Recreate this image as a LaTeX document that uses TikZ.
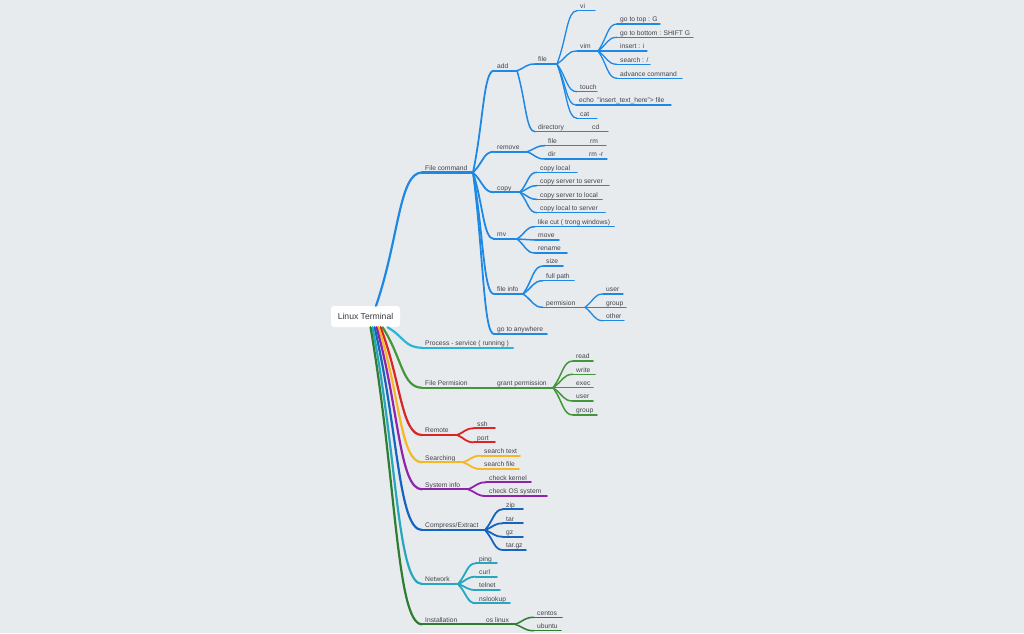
\documentclass[tikz,border=0pt]{standalone}
\usepackage{fontspec}
\setmainfont{Liberation Sans}
\usetikzlibrary{calc}
\definecolor{bg}{RGB}{232,235,238}
\definecolor{txt}{RGB}{66,66,76}
\definecolor{cB}{RGB}{30,136,229}
\definecolor{cCy}{RGB}{41,182,214}
\definecolor{cGa}{RGB}{67,150,58}
\definecolor{cR}{RGB}{218,37,37}
\definecolor{cO}{RGB}{247,183,36}
\definecolor{cP}{RGB}{142,36,170}
\definecolor{cBb}{RGB}{21,101,192}
\definecolor{cT}{RGB}{38,166,191}
\definecolor{cGb}{RGB}{46,125,50}
\tikzset{
  lbl/.style={font=\fontsize{6.7}{8}\selectfont, text=txt, inner xsep=3pt, inner ysep=2pt, text depth=0pt, anchor=south west},
  rootbox/.style={fill=white, rounded corners=3pt, minimum width=69pt, minimum height=21pt, inner sep=0pt, font=\fontsize{8.6}{10}\selectfont, text=txt!85!black},
  wa/.style={line width=2.2pt, line cap=round},
  wb/.style={line width=1.8pt, line cap=round},
  wc/.style={line width=1.5pt, line cap=round},
  wd/.style={line width=1.3pt, line cap=round}
}
% id, x0, x1, y, style, text
\newcommand\mm[6]{%
  \node[lbl] (#1) at (#2,#4) {#6};
  \coordinate (#1e) at (#3,#4);
  \draw[#5] (#1.south west) -- (#1e);}
% from coordinate, to node, style
\newcommand\cn[3]{%
  \coordinate (cm) at ($(#1)!0.5!(#2.south west)$);
  \draw[#3] (#1) .. controls (cm) and (cm |- #2.south west) .. (#2.south west);}
\begin{document}
\begin{tikzpicture}[x=1pt,y=-1pt]
\fill[bg] (0,0) rectangle (1024,633);
\useasboundingbox (0,0) rectangle (1024,633);

\node[rootbox] (root) at (365.5,316.5) {Linux Terminal};
\coordinate (r1) at ([xshift=10.5pt]root.north);
\coordinate (r2) at ([xshift=22pt]root.south);
\coordinate (r3) at ([xshift=17pt]root.south);
\coordinate (r4) at ([xshift=15pt]root.south);
\coordinate (r5) at ([xshift=13pt]root.south);
\coordinate (r6) at ([xshift=11pt]root.south);
\coordinate (r7) at ([xshift=9pt]root.south);
\coordinate (r8) at ([xshift=7pt]root.south);
\coordinate (r9) at ([xshift=5pt]root.south);

% ---------- File command ----------
\mm{fc}{422}{473}{172.5}{cB,wa}{File command}
\mm{add}{494}{517}{70.7}{cB,wb}{add}
\mm{rem}{494}{527}{151.7}{cB,wb}{remove}
\mm{cp}{494}{520}{192.3}{cB,wb}{copy}
\mm{mv}{494}{517}{239}{cB,wb}{mv}
\mm{fi}{494}{523}{294}{cB,wb}{file info}
\mm{gta}{494}{547}{334}{cB,wb}{go to anywhere}

\mm{afile}{535}{557}{64}{cB,wc}{file}
\mm{dir}{535}{567}{131.7}{cB,wc}{directory}
\mm{cd}{589}{608}{131.7}{cB,wd}{cd}

\mm{vi}{577}{595}{10.7}{cB,wd}{vi}
\mm{vim}{577}{598}{51}{cB,wd}{vim}
\mm{touch}{577}{597}{91.7}{cB,wd}{touch}
\mm{echo}{576}{671}{105}{cB,wd}{echo ~"insert\_text\_here"> file}
\mm{cat}{577}{597}{118.3}{cB,wd}{cat}

\mm{gtt}{617}{660}{24}{cB,wd}{go to top : G}
\mm{gtb}{617}{693}{37.3}{cB,wd}{go to bottom : SHIFT G}
\mm{ins}{617}{647}{51}{cB,wd}{insert : i}
\mm{srch}{617}{650}{64.3}{cB,wd}{search : /}
\mm{adv}{617}{682}{78.3}{cB,wd}{advance command}

\mm{rfile}{545}{567}{145.7}{cB,wc}{file}
\mm{rm}{587}{606}{145.7}{cB,wd}{rm}
\mm{rdir}{545}{567}{159}{cB,wc}{dir}
\mm{rmr}{586}{607}{159}{cB,wd}{rm -r}

\mm{cl}{537}{577}{172.3}{cB,wc}{copy local}
\mm{css}{537}{609}{185.7}{cB,wc}{copy server to server}
\mm{csl}{537}{602}{199.3}{cB,wc}{copy server to local}
\mm{cls}{537}{605}{212.7}{cB,wc}{copy local to server}

\mm{lcut}{535}{614}{226.7}{cB,wc}{like cut ( trong windows)}
\mm{move}{535}{559}{240}{cB,wc}{move}
\mm{ren}{535}{567}{253}{cB,wc}{rename}

\mm{size}{543}{563}{266}{cB,wc}{size}
\mm{fp}{543}{574}{280.7}{cB,wc}{full path}
\mm{perm}{543}{585}{307.3}{cB,wc}{permision}
\mm{pu}{603}{623}{294}{cB,wd}{user}
\mm{pg}{603}{626}{307.3}{cB,wd}{group}
\mm{po}{603}{624}{320.7}{cB,wd}{other}

\cn{r1}{fc}{cB,wa}
\cn{fce}{add}{cB,wb}
\cn{fce}{rem}{cB,wb}
\cn{fce}{cp}{cB,wb}
\cn{fce}{mv}{cB,wb}
\cn{fce}{fi}{cB,wb}
\cn{fce}{gta}{cB,wb}
\cn{adde}{afile}{cB,wc}
\cn{adde}{dir}{cB,wc}
\cn{dire}{cd}{cB,wd}
\cn{afilee}{vi}{cB,wd}
\cn{afilee}{vim}{cB,wd}
\cn{afilee}{touch}{cB,wd}
\cn{afilee}{echo}{cB,wd}
\cn{afilee}{cat}{cB,wd}
\cn{vime}{gtt}{cB,wd}
\cn{vime}{gtb}{cB,wd}
\cn{vime}{ins}{cB,wd}
\cn{vime}{srch}{cB,wd}
\cn{vime}{adv}{cB,wd}
\cn{reme}{rfile}{cB,wc}
\cn{reme}{rdir}{cB,wc}
\cn{rfilee}{rm}{cB,wd}
\cn{rdire}{rmr}{cB,wd}
\cn{cpe}{cl}{cB,wc}
\cn{cpe}{css}{cB,wc}
\cn{cpe}{csl}{cB,wc}
\cn{cpe}{cls}{cB,wc}
\cn{mve}{lcut}{cB,wc}
\cn{mve}{move}{cB,wc}
\cn{mve}{ren}{cB,wc}
\cn{fie}{size}{cB,wc}
\cn{fie}{fp}{cB,wc}
\cn{fie}{perm}{cB,wc}
\cn{perme}{pu}{cB,wd}
\cn{perme}{pg}{cB,wd}
\cn{perme}{po}{cB,wd}

% ---------- Process ----------
\mm{proc}{422}{513}{347.7}{cCy,wa}{Process - service ( running )}
\cn{r2}{proc}{cCy,wa}

% ---------- File Permision ----------
\mm{fperm}{422}{470}{387.7}{cGa,wa}{File Permision}
\mm{gp}{494}{553}{387.7}{cGa,wb}{grant permission}
\mm{read}{573}{593}{361}{cGa,wc}{read}
\mm{write}{573}{595}{374.3}{cGa,wc}{write}
\mm{exec}{573}{593}{387.7}{cGa,wc}{exec}
\mm{user}{573}{593}{401}{cGa,wc}{user}
\mm{group}{573}{597}{415}{cGa,wc}{group}
\cn{r3}{fperm}{cGa,wa}
\cn{fperme}{gp}{cGa,wb}
\cn{gpe}{read}{cGa,wc}
\cn{gpe}{write}{cGa,wc}
\cn{gpe}{exec}{cGa,wc}
\cn{gpe}{user}{cGa,wc}
\cn{gpe}{group}{cGa,wc}

% ---------- Remote ----------
\mm{rmt}{422}{457}{435}{cR,wa}{Remote}
\mm{ssh}{474}{495}{428.3}{cR,wb}{ssh}
\mm{port}{474}{495}{442.3}{cR,wb}{port}
\cn{r4}{rmt}{cR,wa}
\cn{rmte}{ssh}{cR,wb}
\cn{rmte}{port}{cR,wb}

% ---------- Searching ----------
\mm{srchg}{422}{463}{462.3}{cO,wa}{Searching}
\mm{st}{481}{520}{455.7}{cO,wb}{search text}
\mm{sf}{481}{519}{469}{cO,wb}{search file}
\cn{r5}{srchg}{cO,wa}
\cn{srchge}{st}{cO,wb}
\cn{srchge}{sf}{cO,wb}

% ---------- System info ----------
\mm{si}{422}{468}{489.3}{cP,wa}{System info}
\mm{ck}{486}{531}{482.3}{cP,wb}{check kernel}
\mm{cos}{486}{547}{496}{cP,wb}{check OS system}
\cn{r6}{si}{cP,wa}
\cn{sie}{ck}{cP,wb}
\cn{sie}{cos}{cP,wb}

% ---------- Compress/Extract ----------
\mm{ce}{422}{485}{530}{cBb,wa}{Compress/Extract}
\mm{zip}{503}{523}{509.3}{cBb,wb}{zip}
\mm{tar}{503}{523}{523.3}{cBb,wb}{tar}
\mm{gz}{503}{523}{536.7}{cBb,wb}{gz}
\mm{targz}{503}{526}{550}{cBb,wb}{tar.gz}
\cn{r7}{ce}{cBb,wa}
\cn{cee}{zip}{cBb,wb}
\cn{cee}{tar}{cBb,wb}
\cn{cee}{gz}{cBb,wb}
\cn{cee}{targz}{cBb,wb}

% ---------- Network ----------
\mm{net}{422}{458}{584}{cT,wa}{Network}
\mm{ping}{476}{497}{563.3}{cT,wb}{ping}
\mm{curl}{476}{497}{576.7}{cT,wb}{curl}
\mm{telnet}{476}{500}{590}{cT,wb}{telnet}
\mm{ns}{476}{510}{603.3}{cT,wb}{nslookup}
\cn{r8}{net}{cT,wa}
\cn{nete}{ping}{cT,wb}
\cn{nete}{curl}{cT,wb}
\cn{nete}{telnet}{cT,wb}
\cn{nete}{ns}{cT,wb}

% ---------- Installation ----------
\mm{inst}{422}{462}{624.3}{cGb,wa}{Installation}
\mm{osl}{483}{515}{624.3}{cGb,wb}{os linux}
\mm{centos}{534}{562}{617.3}{cGb,wc}{centos}
\mm{ubuntu}{534}{561}{630.7}{cGb,wc}{ubuntu}
\cn{r9}{inst}{cGb,wa}
\cn{inste}{osl}{cGb,wb}
\cn{osle}{centos}{cGb,wc}
\cn{osle}{ubuntu}{cGb,wc}
\end{tikzpicture}
\end{document}
